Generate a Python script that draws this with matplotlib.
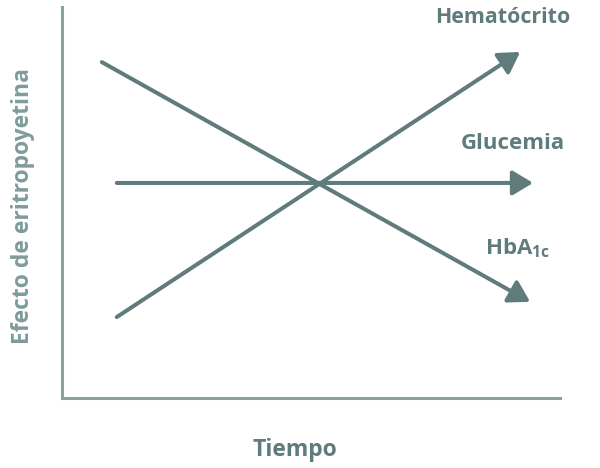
import matplotlib
matplotlib.use("Agg")
import matplotlib.pyplot as plt

# Curvas conceptuales: (x inicio, y inicio) -> (x fin, y fin), escala 0-10
series = ["Hematócrito", "Glucemia", "HbA$_{1c}$"]
x_start = [1.1, 1.1, 0.8]
y_start = [2.07, 5.5, 8.59]
x_end = [9.2, 9.46, 9.4]
y_end = [8.85, 5.5, 2.46]
label_pos = [(7.5, 9.73), (8.0, 6.5), (8.5, 3.82)]
label_size = [15.4, 16, 16]

LINE_COLOR = "#5f7b7c"
AXIS_COLOR = "#86a3a3"
TEXT_COLOR = "#5f7b7c"

plt.rcParams["font.family"] = ["Open Sans", "DejaVu Sans"]
plt.rcParams["mathtext.fontset"] = "custom"
plt.rcParams["mathtext.rm"] = "Open Sans:bold"
plt.rcParams["mathtext.default"] = "rm"

fig = plt.figure(figsize=(6, 4.68), dpi=100)
ax = fig.add_axes([62 / 600, 70 / 468, 498 / 600, 391 / 468])
ax.set_xlim(0, 10)
ax.set_ylim(0, 10)

for xs, ys, xe, ye in zip(x_start, y_start, x_end, y_end):
    ax.annotate(
        "",
        xy=(xe, ye),
        xytext=(xs, ys),
        arrowprops=dict(arrowstyle="-|>,head_length=1.0,head_width=0.6",
                        mutation_scale=12.5, color=LINE_COLOR, lw=2.9,
                        shrinkA=0, shrinkB=0),
    )

for name, (lx, ly), fs in zip(series, label_pos, label_size):
    ax.text(lx, ly, name, fontsize=fs, fontweight="bold", color=TEXT_COLOR,
            ha="left", va="center")

for side in ["top", "right"]:
    ax.spines[side].set_visible(False)
for side in ["left", "bottom"]:
    ax.spines[side].set_color(AXIS_COLOR)
    ax.spines[side].set_linewidth(2.2)
ax.set_xticks([])
ax.set_yticks([])

fig.text(295 / 600, 1 - 450 / 468, "Tiempo", fontsize=16.5, fontweight="bold",
         color=TEXT_COLOR, ha="center", va="center")
fig.text(23 / 600, 1 - 206 / 468, "Efecto de eritropoyetina", fontsize=16.5,
         fontweight="bold", color="#7f9b9b", ha="center", va="center",
         rotation=90)

plt.savefig("out.png", dpi=100)
plt.close()
